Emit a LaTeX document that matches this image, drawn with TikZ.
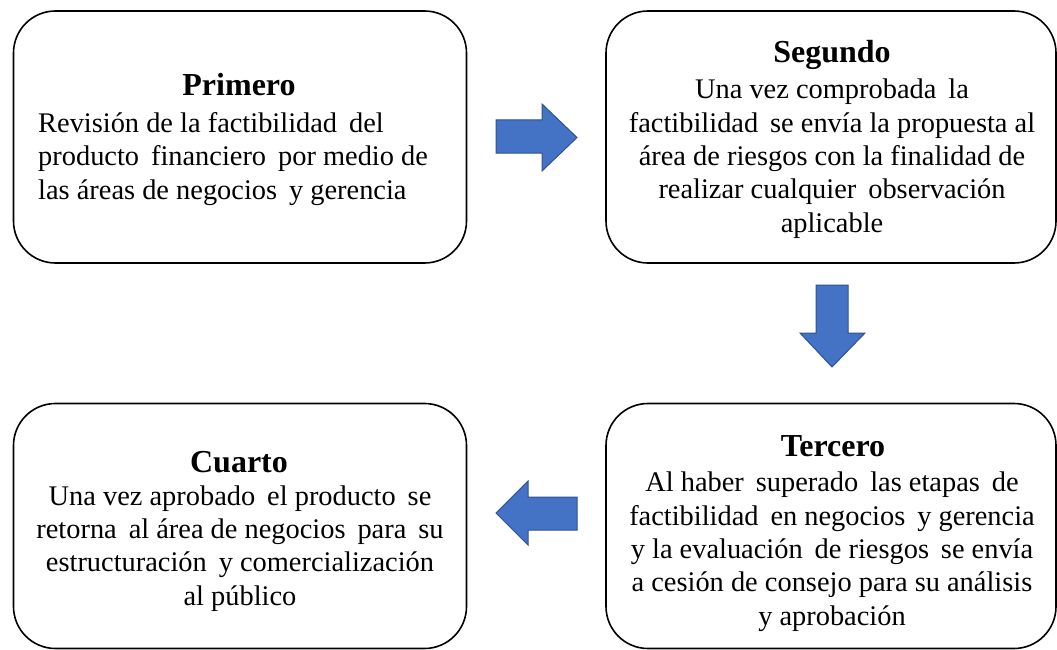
\documentclass[tikz,border=0pt]{standalone}
\usepackage{fontspec}
\setmainfont{Liberation Serif}
\definecolor{arrowfill}{HTML}{4472C4}
\definecolor{arrowline}{HTML}{2F528F}
\newcommand{\wsp}{\hspace{0.42em}}
\begin{document}
\begin{tikzpicture}[x=1pt,y=-1pt,
  stagebox/.style={draw=black, line width=1.6pt, rounded corners=42pt, minimum width=453pt, inner sep=0pt},
  titletext/.style={font=\fontsize{32}{36}\selectfont\bfseries, inner sep=0pt, anchor=base},
  bodytext/.style={font=\fontsize{28.4}{33.3}\selectfont, inner sep=0pt, align=center, anchor=base},
  blockarrow/.style={fill=arrowfill, draw=arrowline, line width=1pt, line join=miter}]
\useasboundingbox (0,0) rectangle (1057,650);
% boxes
\node[stagebox, minimum height=252pt] (p1) at (240,137) {};
\node[stagebox, minimum height=252pt, minimum width=450pt] (p2) at (831,137) {};
\node[stagebox, minimum height=245pt, minimum width=450pt] (p3) at (831,526) {};
\node[stagebox, minimum height=245pt] (p4) at (240,526) {};
% texts (body nodes anchored at the baseline of their last line)
\node[titletext] (t1) at (239,96) {Primero};
\node[bodytext, align=left, anchor=base west] (b1) at (38,199) {Revisión de la factibilidad\wsp del\\producto\wsp financiero\wsp por medio de\\las áreas de negocios\wsp y gerencia};
\node[titletext] (t2) at (832,63) {Segundo};
\node[bodytext] (b2) at (832,232) {Una vez comprobada\wsp la\\factibilidad\wsp se envía la propuesta al\\área de riesgos con la finalidad de\\realizar cualquier\wsp observación\\aplicable};
\node[titletext] (t3) at (833,456) {Tercero};
\node[bodytext] (b3) at (832,625) {Al haber\wsp superado\wsp las etapas\wsp de\\factibilidad\wsp en negocios\wsp y gerencia\\y la evaluación\wsp de riesgos\wsp se envía\\a cesión de consejo para su análisis\\y aprobación};
\node[titletext] (t4) at (239,472) {Cuarto};
\node[bodytext] (b4) at (240,605) {Una vez aprobado\wsp el producto\wsp se\\retorna\wsp al área de negocios\wsp para\wsp su\\estructuración\wsp y comercialización\\al público};
% arrows
\draw[blockarrow] (496,120) -- (542,120) -- (542,104) -- (577,137.5) -- (542,171) -- (542,153) -- (496,153) -- cycle;
\draw[blockarrow] (816,285) -- (848,285) -- (848,333) -- (865,333) -- (832,367) -- (800,333) -- (816,333) -- cycle;
\draw[blockarrow] (577,497) -- (528,497) -- (528,481) -- (496,513) -- (528,545) -- (528,530) -- (577,530) -- cycle;
\end{tikzpicture}
\end{document}
